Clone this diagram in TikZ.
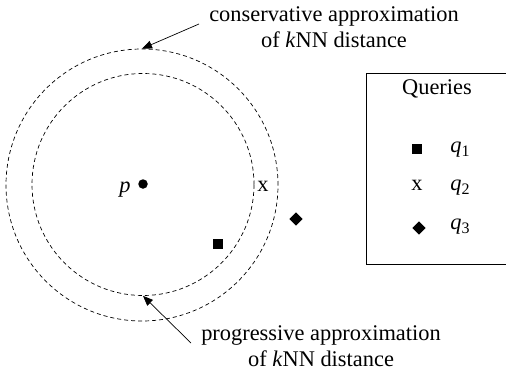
\documentclass[tikz,border=0pt]{standalone}
\usepackage{fontspec}
\setmainfont{Liberation Serif}
\usetikzlibrary{arrows.meta,shapes.geometric}
\newcommand{\qsub}[1]{\textit{q}\raisebox{-0.35ex}{\fontsize{16}{16}\selectfont #1}}
\begin{document}
\begin{tikzpicture}[x=1pt,y=-1pt,
  lbl/.style={font=\fontsize{22.4}{26}\selectfont, align=center, inner sep=0pt},
  ring/.style={circle, draw, line width=0.7pt, dash pattern=on 4pt off 3pt, inner sep=0pt},
  ptr/.style={-{Triangle[length=10pt,width=8pt]}, line width=0.7pt},
  txt/.style={font=\fontsize{22.4}{24}\selectfont, inner sep=0pt},
  sq/.style={rectangle, fill, minimum size=9.5pt, inner sep=0pt},
  dia/.style={diamond, fill, minimum size=13.5pt, inner sep=0pt, shape aspect=1}]
\useasboundingbox (0,0) rectangle (506,372);
% circles
\node[ring, minimum size=272pt] (outer) at (142,185) {};
\node[ring, minimum size=222pt] (inner) at (143,184.5) {};
% labels
\node[lbl] (cons) at (334,27) {conservative approximation\\of \textit{k}NN distance};
\node[lbl] (prog) at (321,346) {progressive approximation\\of \textit{k}NN distance};
\coordinate (cs) at (199,24);
\coordinate (ps) at (191,343);
\draw[ptr] (cs) -- (outer.north);
\draw[ptr] (ps) -- (inner.south);
% point p
\node[circle, fill, minimum size=9.5pt, inner sep=0pt] (p) at (143,184) {};
\node[txt, font=\fontsize{22.4}{24}\selectfont\itshape] (plbl) at (125,190) {p};
% queries in the plane
\node[sq] (q1) at (218,244) {};
\node[txt] (q2) at (263,186) {x};
\node[dia] (q3) at (296,219) {};
% legend (open on the right, runs off the picture)
\coordinate (ltr) at (506,73);
\coordinate (lbr) at (506,264);
\draw[line width=0.7pt] (ltr) -- (366,73) coordinate (ltl) -- (366,264) coordinate (lbl) -- (lbr);
\node[txt] (qt) at (437,89) {Queries};
\node[sq] (l1) at (417,149) {};
\node[txt] (l2) at (417,185) {x};
\node[dia] (l3) at (419,228) {};
\node[txt] (t1) at (460,150) {\qsub{1}};
\node[txt] (t2) at (460,188) {\qsub{2}};
\node[txt] (t3) at (460,227) {\qsub{3}};
\end{tikzpicture}
\end{document}
